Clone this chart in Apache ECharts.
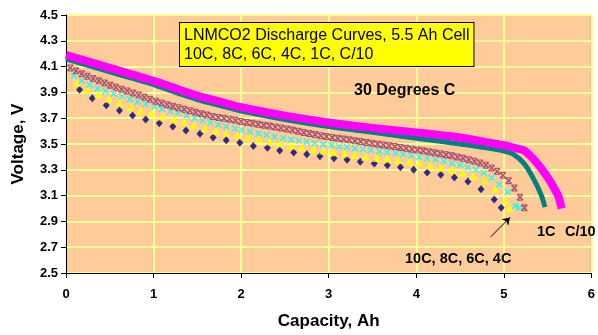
<!DOCTYPE html>
<html>
<head>
<meta charset="utf-8">
<script src="https://cdn.jsdelivr.net/npm/echarts@6/dist/echarts.min.js"></script>
<style>
  html, body { margin: 0; padding: 0; background: #fff; }
  #chart { width: 598px; height: 335px; }
</style>
</head>
<body>
<div id="chart"></div>
<script>
// capacity (Ah) / voltage (V)
const cap10C = [0.155, 0.30, 0.46, 0.61, 0.76, 0.91, 1.065, 1.22, 1.37, 1.53, 1.68, 1.83, 1.985, 2.14, 2.30, 2.44, 2.60, 2.75, 2.90, 3.06, 3.21, 3.36, 3.52, 3.67, 3.82, 3.97, 4.125, 4.28, 4.435, 4.59, 4.74, 4.89, 4.97];
const v10C = [3.92, 3.855, 3.80, 3.76, 3.72, 3.69, 3.66, 3.635, 3.605, 3.58, 3.55, 3.53, 3.51, 3.485, 3.47, 3.45, 3.435, 3.42, 3.405, 3.39, 3.377, 3.362, 3.348, 3.335, 3.32, 3.30, 3.28, 3.262, 3.24, 3.21, 3.15, 3.07, 3.005];

const cap8C = [0.12, 0.24, 0.37, 0.49, 0.61, 0.735, 0.855, 0.98, 1.10, 1.23, 1.35, 1.46, 1.59, 1.71, 1.83, 1.96, 2.08, 2.20, 2.33, 2.45, 2.57, 2.69, 2.82, 2.94, 3.05, 3.18, 3.30, 3.42, 3.55, 3.67, 3.79, 3.92, 4.04, 4.16, 4.28, 4.41, 4.53, 4.655, 4.78, 4.90, 5.015, 5.065];
const v8C = [3.975, 3.92, 3.885, 3.85, 3.82, 3.785, 3.76, 3.74, 3.713, 3.69, 3.668, 3.645, 3.622, 3.602, 3.585, 3.57, 3.55, 3.535, 3.52, 3.505, 3.488, 3.472, 3.46, 3.45, 3.437, 3.428, 3.415, 3.402, 3.392, 3.385, 3.376, 3.364, 3.35, 3.333, 3.316, 3.298, 3.277, 3.25, 3.218, 3.154, 3.064, 3.005];

const cap6C = [0.09, 0.18, 0.27, 0.36, 0.45, 0.545, 0.64, 0.73, 0.82, 0.91, 1.01, 1.095, 1.19, 1.28, 1.375, 1.47, 1.56, 1.65, 1.74, 1.83, 1.93, 2.01, 2.105, 2.20, 2.29, 2.38, 2.48, 2.57, 2.66, 2.75, 2.84, 2.935, 3.03, 3.12, 3.21, 3.30, 3.39, 3.48, 3.58, 3.67, 3.765, 3.85, 3.94, 4.03, 4.125, 4.22, 4.315, 4.41, 4.50, 4.59, 4.68, 4.77, 4.86, 4.95, 5.045, 5.13, 5.18];
const v6C = [4.03, 3.99, 3.96, 3.93, 3.91, 3.89, 3.87, 3.847, 3.828, 3.81, 3.79, 3.772, 3.756, 3.74, 3.72, 3.70, 3.682, 3.667, 3.65, 3.636, 3.62, 3.608, 3.595, 3.582, 3.57, 3.557, 3.546, 3.534, 3.525, 3.517, 3.508, 3.498, 3.492, 3.483, 3.475, 3.467, 3.46, 3.453, 3.444, 3.436, 3.43, 3.422, 3.41, 3.398, 3.39, 3.38, 3.368, 3.35, 3.338, 3.32, 3.302, 3.277, 3.238, 3.187, 3.128, 3.02, 3.005];

const cap4C = [0.05, 0.115, 0.18, 0.245, 0.31, 0.375, 0.44, 0.505, 0.57, 0.635, 0.70, 0.765, 0.83, 0.895, 0.96, 1.025, 1.09, 1.155, 1.22, 1.285, 1.35, 1.415, 1.48, 1.545, 1.61, 1.675, 1.74, 1.805, 1.87, 1.935, 2.0, 2.065, 2.13, 2.195, 2.26, 2.325, 2.39, 2.455, 2.52, 2.585, 2.65, 2.715, 2.78, 2.845, 2.91, 2.975, 3.04, 3.105, 3.17, 3.235, 3.30, 3.365, 3.43, 3.495, 3.56, 3.625, 3.69, 3.755, 3.82, 3.885, 3.95, 4.015, 4.08, 4.145, 4.21, 4.275, 4.34, 4.405, 4.47, 4.535, 4.60, 4.665, 4.73, 4.795, 4.86, 4.925, 4.99, 5.055, 5.12, 5.185, 5.235];
const v4C = [4.09, 4.067, 4.044, 4.025, 4.008, 3.99, 3.973, 3.956, 3.939, 3.925, 3.911, 3.896, 3.879, 3.862, 3.846, 3.832, 3.818, 3.805, 3.793, 3.781, 3.769, 3.758, 3.746, 3.734, 3.724, 3.714, 3.706, 3.699, 3.692, 3.684, 3.675, 3.667, 3.66, 3.653, 3.646, 3.639, 3.632, 3.625, 3.617, 3.608, 3.599, 3.59, 3.581, 3.573, 3.564, 3.558, 3.551, 3.545, 3.538, 3.532, 3.525, 3.519, 3.512, 3.506, 3.499, 3.493, 3.486, 3.48, 3.473, 3.467, 3.46, 3.453, 3.447, 3.44, 3.433, 3.425, 3.417, 3.408, 3.40, 3.389, 3.378, 3.366, 3.353, 3.336, 3.314, 3.288, 3.257, 3.216, 3.159, 3.087, 3.005];

const cap1C = [0, 0.25, 0.5, 0.75, 1.0, 1.25, 1.5, 1.75, 2.0, 2.5, 3.0, 3.5, 4.0, 4.5, 4.8, 5.0, 5.11, 5.23, 5.34, 5.43, 5.47];
const v1C = [4.16, 4.11, 4.06, 4.01, 3.96, 3.90, 3.845, 3.80, 3.755, 3.69, 3.635, 3.59, 3.545, 3.50, 3.47, 3.445, 3.42, 3.35, 3.23, 3.10, 3.01];

const capC10 = [0, 0.25, 0.5, 0.75, 1.0, 1.28, 1.5, 1.75, 2.0, 2.5, 3.0, 3.5, 4.0, 4.5, 4.8, 5.0, 5.12, 5.23, 5.3, 5.37, 5.45, 5.52, 5.58, 5.62, 5.66];
const vC10 = [4.19, 4.14, 4.09, 4.04, 3.99, 3.925, 3.875, 3.83, 3.785, 3.72, 3.667, 3.625, 3.59, 3.55, 3.515, 3.49, 3.47, 3.45, 3.41, 3.36, 3.29, 3.22, 3.15, 3.10, 3.0];

// arrow pointing at the high-rate curve ends
const arrowFrom = [4.85, 2.78];
const arrowTo = [5.07, 2.93];

const FONT = '"Liberation Sans", Arial, sans-serif';

const pairs = (xs, ys) => xs.slice(0, Math.min(xs.length, ys.length)).map((x, i) => [x, ys[i]]);

const xMark = 'path://M0,1.5L1.5,0L5,3.5L8.5,0L10,1.5L6.5,5L10,8.5L8.5,10L5,6.5L1.5,10L0,8.5L3.5,5Z';
const starMark = 'path://M0,1.6L1.6,0L5,3.4L8.4,0L10,1.6L6.6,5L10,8.4L8.4,10L5,6.6L1.6,10L0,8.4L3.4,5Z M1,0L9,0L9,1.6L1,1.6Z M1,8.4L9,8.4L9,10L1,10Z';

const chart = echarts.init(document.getElementById('chart'), null, { renderer: 'canvas' });

chart.setOption({
  animation: false,
  backgroundColor: '#ffffff',
  textStyle: { fontFamily: FONT },
  grid: {
    left: 66, top: 15, width: 529, height: 260,
    show: true,
    backgroundColor: '#FFCC99',
    borderColor: '#808080',
    borderWidth: 1
  },
  xAxis: {
    type: 'value',
    min: 0, max: 6, interval: 1,
    name: 'Capacity, Ah',
    nameLocation: 'middle',
    nameGap: 40,
    nameTextStyle: { color: '#000', fontWeight: 'bold', fontSize: 17, fontFamily: FONT },
    axisLine: { onZero: false, lineStyle: { color: '#000', width: 1 } },
    axisTick: { show: true, inside: false, length: 5, lineStyle: { color: '#000' } },
    axisLabel: { color: '#000', fontWeight: 'bold', fontSize: 13, margin: 15, fontFamily: FONT },
    splitLine: { show: true, lineStyle: { color: '#FFFF99', width: 2 } }
  },
  yAxis: {
    type: 'value',
    min: 2.5, max: 4.5, interval: 0.2,
    name: 'Voltage, V',
    nameLocation: 'middle',
    nameGap: 39,
    nameTextStyle: { color: '#000', fontWeight: 'bold', fontSize: 17, fontFamily: FONT },
    axisLine: { show: true, onZero: false, lineStyle: { color: '#000', width: 1 } },
    axisTick: { show: true, inside: false, length: 5, lineStyle: { color: '#000' } },
    axisLabel: { color: '#000', fontWeight: 'bold', fontSize: 13, margin: 8, fontFamily: FONT,
      formatter: v => v.toFixed(1) },
    splitLine: { show: true, lineStyle: { color: '#FFFF99', width: 2 } }
  },
  series: [
    {
      name: '10C', type: 'scatter',
      data: pairs(cap10C, v10C),
      symbol: 'diamond', symbolSize: [7, 8],
      itemStyle: { color: '#000080' },
      markLine: {
        silent: true,
        symbol: ['none', 'arrow'],
        symbolSize: 7,
        label: { show: false },
        lineStyle: { color: '#000', width: 1, type: 'solid' },
        data: [[{ coord: arrowFrom }, { coord: arrowTo }]]
      }
    },
    {
      name: '8C', type: 'scatter',
      data: pairs(cap8C, v8C),
      symbol: 'triangle', symbolSize: [9, 8],
      itemStyle: { color: '#FFFF00' }
    },
    {
      name: '6C', type: 'scatter',
      data: pairs(cap6C, v6C),
      symbol: xMark, symbolSize: 7,
      itemStyle: { color: '#00FFFF' }
    },
    {
      name: '4C', type: 'scatter',
      data: pairs(cap4C, v4C),
      symbol: starMark, symbolSize: 7,
      itemStyle: { color: '#993366' }
    },
    {
      name: '1C', type: 'line',
      data: pairs(cap1C, v1C),
      smooth: 0.3, showSymbol: false,
      lineStyle: { color: '#008080', width: 5 }
    },
    {
      name: 'C/10', type: 'line',
      data: pairs(capC10, vC10),
      smooth: 0.3, showSymbol: false,
      lineStyle: { color: '#FF00FF', width: 8, cap: 'butt' }
    }
  ],
  graphic: [
    {
      type: 'text', left: 179, top: 22, z: 100,
      style: {
        text: 'LNMCO2 Discharge Curves, 5.5 Ah Cell\n10C, 8C, 6C, 4C, 1C, C/10',
        font: '16px ' + FONT,
        fill: '#000',
        lineHeight: 19,
        backgroundColor: '#FFFF00',
        borderColor: '#000',
        borderWidth: 1,
        padding: [3, 4, 2, 4]
      }
    },
    {
      type: 'text', left: 354, top: 83, z: 100,
      style: { text: '30 Degrees C', font: 'bold 16px ' + FONT, fill: '#000' }
    },
    {
      type: 'text', left: 537, top: 224, z: 100,
      style: { text: '1C', font: 'bold 14.5px ' + FONT, fill: '#000' }
    },
    {
      type: 'text', left: 565, top: 224, z: 100,
      style: { text: 'C/10', font: 'bold 14.5px ' + FONT, fill: '#000' }
    },
    {
      type: 'text', left: 405, top: 251, z: 100,
      style: { text: '10C, 8C, 6C, 4C', font: 'bold 14.5px ' + FONT, fill: '#000' }
    }
  ]
});
</script>
</body>
</html>
